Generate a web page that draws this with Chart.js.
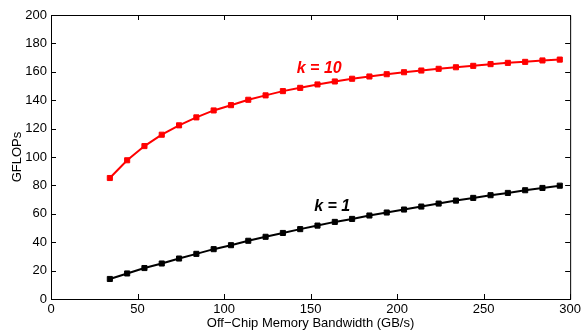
<!DOCTYPE html>
<html>
<head>
<meta charset="utf-8">
<script src="https://cdn.jsdelivr.net/npm/chart.js@4/dist/chart.umd.min.js"></script>
<style>
  html, body { margin: 0; padding: 0; background: #fff; }
  #wrap { width: 584px; height: 332px; position: relative; }
</style>
</head>
<body>
<div id="wrap"><canvas id="flops"></canvas></div>
<script>
// ===== DATA =====
const bandwidth = [34, 44, 54, 64, 74, 84, 94, 104, 114, 124, 134, 144, 154, 164,
  174, 184, 194, 204, 214, 224, 234, 244, 254, 264, 274, 284, 294];
const k10 = [85.2, 97.7, 107.7, 115.7, 122.3, 127.9, 132.8, 136.5, 140.3, 143.4,
  146.4, 148.7, 151.1, 153.2, 155.1, 156.7, 158.3, 159.7, 160.9, 162.1,
  163.2, 164.2, 165.4, 166.3, 167.0, 168.0, 168.6];
const k1 = [14.1, 18.0, 21.8, 25.0, 28.5, 31.8, 35.1, 37.9, 41.0, 43.8,
  46.5, 49.2, 51.7, 54.3, 56.4, 58.8, 60.9, 63.0, 65.1, 67.2,
  69.3, 71.2, 73.1, 74.7, 76.6, 78.2, 79.8];
const xTicks = [0, 50, 100, 150, 200, 250, 300];
const yTicks = [0, 20, 40, 60, 80, 100, 120, 140, 160, 180, 200];

const FONT = "'Liberation Sans', Arial, Helvetica, sans-serif";

function pts(ys) {
  return ys.map((y, i) => ({ x: bandwidth[i], y }));
}

// ===== FRAME + INWARD TICKS + CURVE LABELS =====
const frame = {
  id: 'frame',
  afterDatasetsDraw(chart) {
    const { ctx, chartArea: a, scales } = chart;
    const L = 5;
    ctx.save();
    ctx.strokeStyle = '#000';
    ctx.lineWidth = 1;
    ctx.beginPath();
    ctx.rect(a.left + 0.5, a.top + 0.5, a.right - a.left, a.bottom - a.top);
    xTicks.forEach(v => {
      const px = Math.round(scales.x.getPixelForValue(v)) + 0.5;
      ctx.moveTo(px, a.bottom); ctx.lineTo(px, a.bottom - L);
      ctx.moveTo(px, a.top); ctx.lineTo(px, a.top + L);
    });
    yTicks.forEach(v => {
      const py = Math.round(scales.y.getPixelForValue(v)) + 0.5;
      ctx.moveTo(a.left, py); ctx.lineTo(a.left + L, py);
      ctx.moveTo(a.right, py); ctx.lineTo(a.right - L, py);
    });
    ctx.stroke();

    // curve labels
    ctx.font = "italic bold 16px " + FONT;
    ctx.textAlign = 'center';
    ctx.textBaseline = 'middle';
    ctx.fillStyle = '#ff0000';
    ctx.fillText('k = 10', scales.x.getPixelForValue(155), scales.y.getPixelForValue(162));
    ctx.fillStyle = '#000';
    ctx.fillText('k = 1', scales.x.getPixelForValue(162.5), scales.y.getPixelForValue(65));
    ctx.restore();
  }
};

new Chart(document.getElementById('flops'), {
  type: 'line',
  data: {
    datasets: [
      {
        label: 'k = 10',
        data: pts(k10),
        borderColor: '#ff0000',
        backgroundColor: '#ff0000',
        borderWidth: 2,
        pointStyle: 'rect',
        pointRadius: 3.6,
        pointBorderWidth: 1,
        tension: 0,
      },
      {
        label: 'k = 1',
        data: pts(k1),
        borderColor: '#000',
        backgroundColor: '#000',
        borderWidth: 2,
        pointStyle: 'rect',
        pointRadius: 3.6,
        pointBorderWidth: 1,
        tension: 0,
      }
    ]
  },
  options: {
    responsive: true,
    maintainAspectRatio: false,
    animation: false,
    layout: { padding: { top: 15, right: 10, left: 0, bottom: 0 } },
    plugins: {
      legend: { display: false },
      tooltip: { enabled: false },
    },
    scales: {
      x: {
        type: 'linear',
        min: 0,
        max: 300,
        afterBuildTicks: (s) => { s.ticks = xTicks.map(v => ({ value: v })); },
        afterFit: (s) => { s.height = 33; },
        grid: { drawOnChartArea: false, drawTicks: false },
        border: { display: true, color: '#000', width: 1 },
        ticks: {
          padding: 3,
          maxRotation: 0,
          font: { family: FONT, size: 13 },
          color: '#000',
        },
        title: {
          display: true,
          text: 'Off\u2212Chip Memory Bandwidth (GB/s)',
          font: { family: FONT, size: 13 },
          color: '#000',
          padding: { top: 0, bottom: 1 },
        }
      },
      y: {
        type: 'linear',
        min: 0,
        max: 200,
        afterBuildTicks: (s) => { s.ticks = yTicks.map(v => ({ value: v })); },
        afterFit: (s) => { s.width = 51; },
        grid: { drawOnChartArea: false, drawTicks: false },
        border: { display: true, color: '#000', width: 1 },
        ticks: {
          padding: 4,
          font: { family: FONT, size: 13 },
          color: '#000',
        },
        title: {
          display: true,
          text: 'GFLOPs',
          font: { family: FONT, size: 13 },
          color: '#000',
          padding: { top: 10, bottom: 0 },
        }
      }
    }
  },
  plugins: [frame]
});
</script>
</body>
</html>
